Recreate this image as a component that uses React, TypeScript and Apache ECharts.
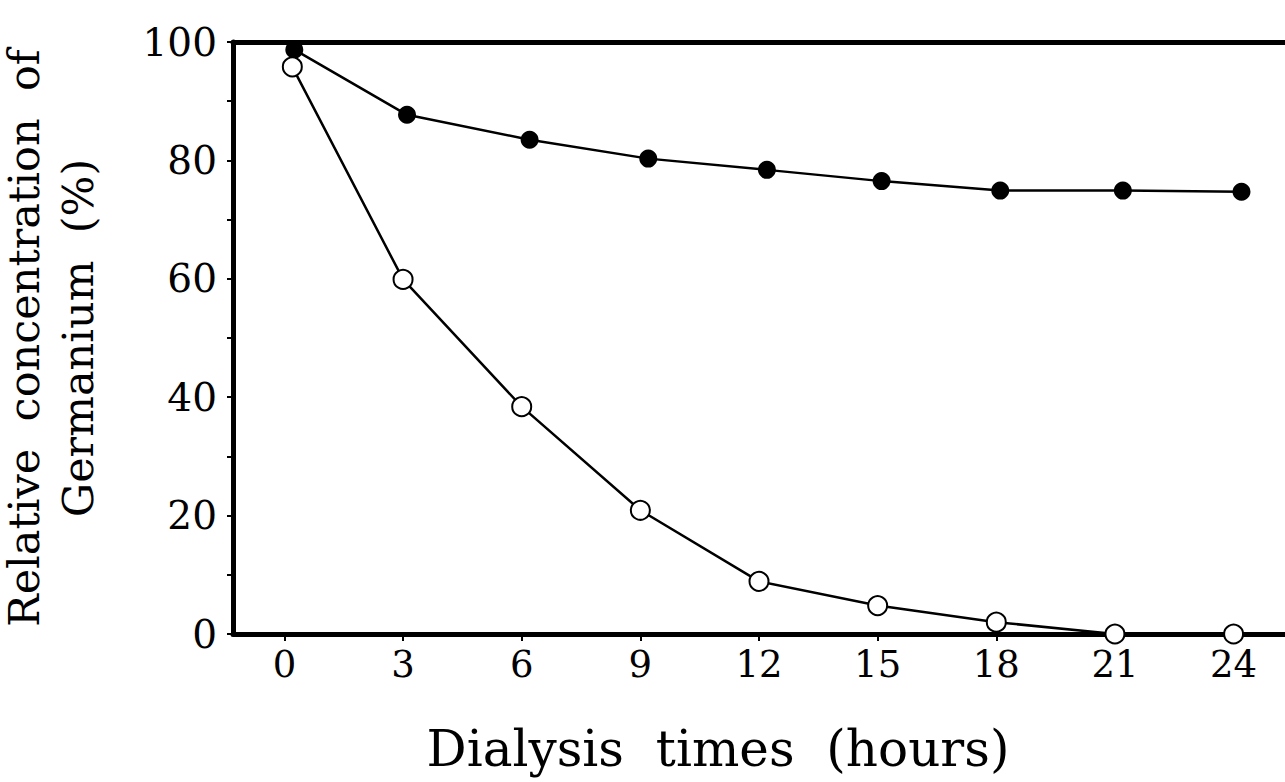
import React, { useEffect, useRef } from "react";
import * as echarts from "echarts";

const hourTicks = [0, 3, 6, 9, 12, 15, 18, 21, 24];

const filledTimes = [0.25, 3.1, 6.2, 9.2, 12.2, 15.1, 18.1, 21.2, 24.2];
const filledValues = [98.7, 87.7, 83.5, 80.3, 78.4, 76.5, 74.9, 74.9, 74.7];

const openTimes = [0.2, 3.0, 6.0, 9.0, 12.0, 15.0, 18.0, 21.0, 24.0];
const openValues = [95.8, 59.9, 38.4, 20.9, 8.9, 4.8, 2.0, 0, 0];

const xTitle = "Dialysis  times  (hours)";
const yTitle = "Relative  concentration  of\nGermanium  (%)";

const FONT = "DejaVu Serif";

export default function App() {
  const ref = useRef<HTMLDivElement>(null);
  useEffect(() => {
    if (!ref.current) return;
    const chart = echarts.init(ref.current, null, { renderer: "svg" });
    const xMin = -1.3;
    const xMax = 25.3;
    chart.setOption({
      animation: false,
      backgroundColor: "#fff",
      grid: {
        left: 233,
        right: 0,
        top: 42,
        bottom: 148,
        containLabel: false,
        outerBoundsMode: "none",
      },
      xAxis: [
        {
          type: "value",
          min: xMin,
          max: xMax,
          name: xTitle,
          nameLocation: "middle",
          nameGap: 90,
          nameTextStyle: {
            fontFamily: FONT,
            fontSize: 50,
            color: "#000",
            padding: [0, 82, 0, 0],
          },
          axisLine: { show: true, onZero: false, lineStyle: { color: "#000", width: 5 } },
          axisTick: {
            show: true,
            customValues: hourTicks,
            length: 7,
            inside: false,
            lineStyle: { color: "#000", width: 2 },
          },
          axisLabel: {
            customValues: hourTicks,
            margin: 12,
            fontFamily: FONT,
            fontSize: 37,
            color: "#000",
          },
          splitLine: { show: false },
        },
        {
          type: "value",
          position: "top",
          min: xMin,
          max: xMax,
          axisLine: { show: true, onZero: false, lineStyle: { color: "#000", width: 5 } },
          axisTick: { show: false },
          axisLabel: { show: false },
          splitLine: { show: false },
        },
      ],
      yAxis: {
        type: "value",
        min: 0,
        max: 100,
        interval: 10,
        name: yTitle,
        nameLocation: "middle",
        nameRotate: 90,
        nameGap: 128,
        nameTextStyle: { fontFamily: FONT, fontSize: 43, color: "#000", lineHeight: 54 },
        axisLine: { show: true, onZero: false, lineStyle: { color: "#000", width: 5 } },
        axisTick: { show: true, length: 6, lineStyle: { color: "#000", width: 2 } },
        axisLabel: {
          margin: 16,
          fontFamily: FONT,
          fontSize: 39,
          color: "#000",
          formatter: (v: number) => (v % 20 === 0 ? String(v) : ""),
        },
        splitLine: { show: false },
      },
      series: [
        {
          type: "line",
          name: "filled",
          data: filledTimes.map((t, i) => [t, filledValues[i]]),
          symbol: "circle",
          symbolSize: 18,
          itemStyle: { color: "#000" },
          lineStyle: { color: "#000", width: 2.5 },
          z: 3,
        },
        {
          type: "line",
          name: "open",
          data: openTimes.map((t, i) => [t, openValues[i]]),
          symbol: "circle",
          symbolSize: 19,
          itemStyle: { color: "#fff", borderColor: "#000", borderWidth: 2 },
          lineStyle: { color: "#000", width: 2.5 },
          z: 3,
        },
      ],
    });
    return () => chart.dispose();
  }, []);
  return (
    <div
      ref={ref}
      style={{ position: "absolute", left: 0, top: 0, width: 1285, height: 782 }}
    />
  );
}
